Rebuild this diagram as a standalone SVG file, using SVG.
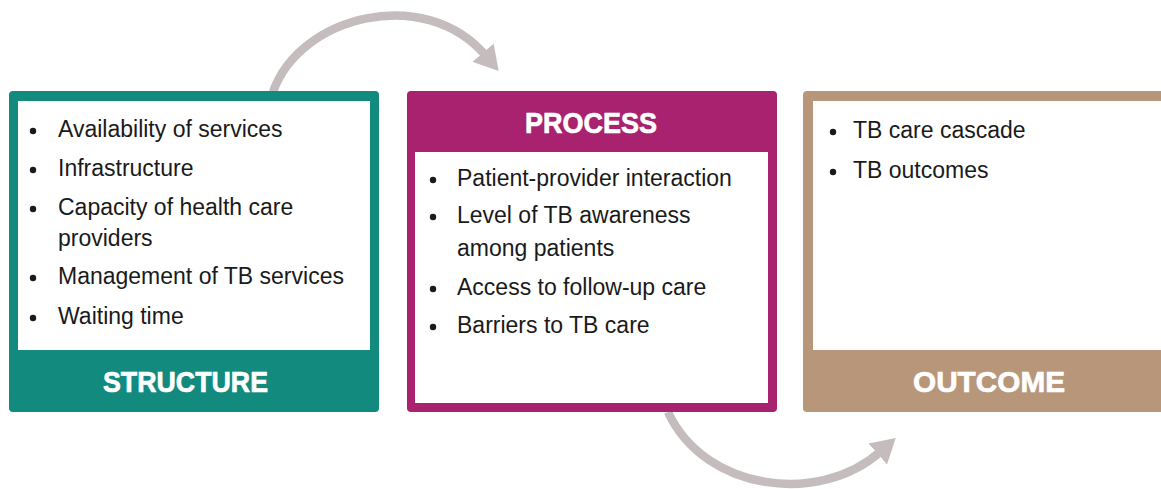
<svg xmlns="http://www.w3.org/2000/svg" width="1161" height="489" viewBox="0 0 1161 489">
  <style>
    .item { font-family: "Liberation Sans", Arial, sans-serif; font-size: 23px; fill: #1a1a1a; }
    .head { font-family: "Liberation Sans", Arial, sans-serif; font-size: 30px; font-weight: bold; fill: #ffffff; stroke: #ffffff; stroke-width: 0.7; }
    .dot { fill: #1a1a1a; }
    .panel { fill: #ffffff; }
    .flow { fill: none; stroke: #c5bdbd; stroke-width: 8.5; stroke-linecap: butt; }
  </style>
  <defs>
    <marker id="arrowhead" markerUnits="userSpaceOnUse" viewBox="0 0 24 28" markerWidth="24" markerHeight="28" refX="3" refY="14" orient="auto">
      <path d="M0,0 L24,14 L0,28 Z" fill="#c5bdbd"/>
    </marker>
  </defs>

  <!-- curved connectors between stages -->
  <g id="connectors">
    <path class="flow" d="M 273 92 C 300 15, 425 -15, 485 55" marker-end="url(#arrowhead)"/>
    <path class="flow" d="M 668 412 C 705 492, 820 505, 880 452" marker-end="url(#arrowhead)"/>
  </g>

  <!-- Structure -->
  <g id="structure">
    <rect x="9" y="91" width="370" height="321" rx="4" fill="#128a7e"/>
    <rect class="panel" x="18" y="101" width="352" height="249"/>
    <circle class="dot" cx="33" cy="131" r="3.2"/>
    <text class="item" x="58" y="137">Availability of services</text>
    <circle class="dot" cx="33" cy="170" r="3.2"/>
    <text class="item" x="58" y="176">Infrastructure</text>
    <circle class="dot" cx="33" cy="209" r="3.2"/>
    <text class="item" x="58" y="215">Capacity of health care</text>
    <text class="item" x="58" y="246">providers</text>
    <circle class="dot" cx="33" cy="278" r="3.2"/>
    <text class="item" x="58" y="284">Management of TB services</text>
    <circle class="dot" cx="33" cy="318" r="3.2"/>
    <text class="item" x="58" y="324">Waiting time</text>
    <text class="head" x="103" y="392" textLength="165" lengthAdjust="spacingAndGlyphs">STRUCTURE</text>
  </g>

  <!-- Process -->
  <g id="process">
    <rect x="407" y="91" width="370" height="321" rx="4" fill="#a8226f"/>
    <rect class="panel" x="415" y="152" width="353" height="251"/>
    <text class="head" x="525" y="133" textLength="132" lengthAdjust="spacingAndGlyphs">PROCESS</text>
    <circle class="dot" cx="433" cy="180" r="3.2"/>
    <text class="item" x="457" y="186">Patient-provider interaction</text>
    <circle class="dot" cx="433" cy="217" r="3.2"/>
    <text class="item" x="457" y="223">Level of TB awareness</text>
    <text class="item" x="457" y="256">among patients</text>
    <circle class="dot" cx="433" cy="289" r="3.2"/>
    <text class="item" x="457" y="295">Access to follow-up care</text>
    <circle class="dot" cx="433" cy="327" r="3.2"/>
    <text class="item" x="457" y="333">Barriers to TB care</text>
  </g>

  <!-- Outcome -->
  <g id="outcome">
    <rect x="803" y="91" width="372" height="321" rx="4" fill="#b8967a"/>
    <rect class="panel" x="813" y="101" width="352" height="249"/>
    <circle class="dot" cx="833" cy="132" r="3.2"/>
    <text class="item" x="853" y="138">TB care cascade</text>
    <circle class="dot" cx="833" cy="172" r="3.2"/>
    <text class="item" x="853" y="178">TB outcomes</text>
    <text class="head" x="913" y="392" textLength="152" lengthAdjust="spacingAndGlyphs">OUTCOME</text>
  </g>
</svg>
